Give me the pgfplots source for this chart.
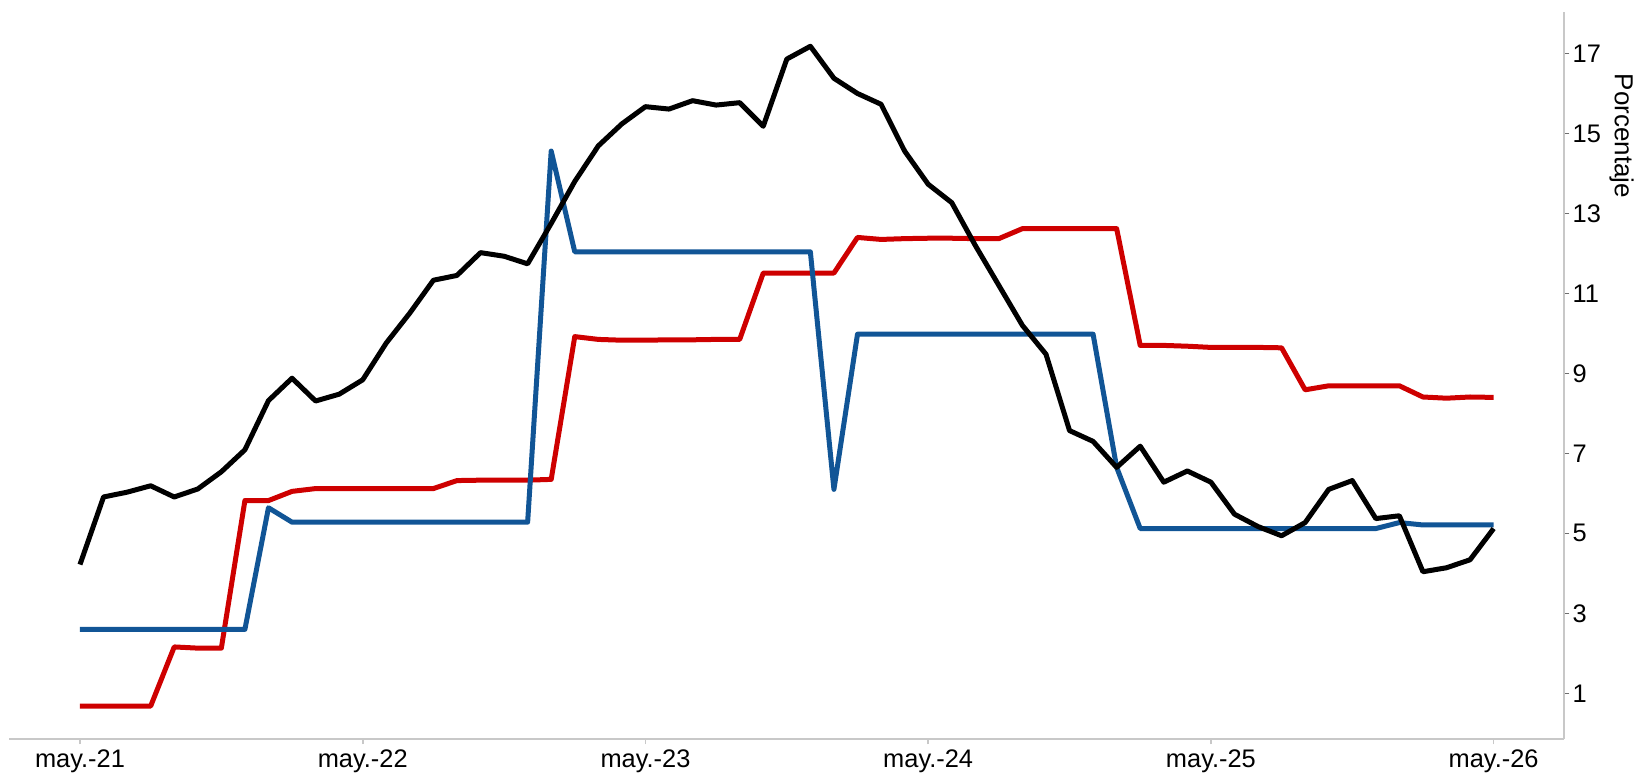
\documentclass[border=0pt]{standalone}
\usepackage{pgfplots}
\pgfplotsset{compat=1.18}
\usepackage{fontspec}
\setmainfont{Liberation Sans}
\definecolor{cblack}{RGB}{0,0,0}
\definecolor{cred}{RGB}{206,0,0}
\definecolor{cblue}{RGB}{17,85,150}
\definecolor{axgray}{RGB}{200,200,200}
\definecolor{tickgray}{RGB}{110,110,110}
\begin{document}
\begin{tikzpicture}
\begin{axis}[
  name=ax,
  scale only axis,
  width=777.5pt, height=363.5pt,
  xmin=-3, xmax=63, ymin=-0.15, ymax=18.03,
  axis x line=bottom, axis y line=right,
  axis line style={-, draw=axgray, line width=1pt},
  xtick={0,12,24,36,48,60},
  xticklabels={may.-21,may.-22,may.-23,may.-24,may.-25,may.-26},
  ytick={1,3,5,7,9,11,13,15,17},
  tick align=outside,
  major tick length=2.5pt,
  xtick style={draw=axgray, line width=0.8pt},
  ytick style={draw=tickgray, line width=0.8pt},
  /pgf/number format/assume math mode=true,
  ticklabel style={font=\fontsize{12.7}{14}\selectfont},
  yticklabel style={inner sep=1.5pt},
  xticklabel style={inner sep=1pt, yshift=-1.5pt},
  clip=false,
]
\addplot[cred, line width=2.5pt, line join=round] coordinates {
(0,0.68)(1,0.68)(2,0.68)(3,0.68)(4,2.16)(5,2.13)(6,2.13)(7,5.82)(8,5.82)(9,6.05)
(10,6.12)(11,6.12)(12,6.12)(13,6.12)(14,6.12)(15,6.12)(16,6.32)(17,6.33)(18,6.33)(19,6.33)
(20,6.35)(21,9.92)(22,9.85)(23,9.83)(24,9.83)(25,9.84)(26,9.84)(27,9.85)(28,9.85)(29,11.51)
(30,11.51)(31,11.51)(32,11.51)(33,12.40)(34,12.35)(35,12.37)(36,12.38)(37,12.38)(38,12.37)(39,12.37)
(40,12.62)(41,12.62)(42,12.62)(43,12.62)(44,12.62)(45,9.70)(46,9.70)(47,9.68)(48,9.65)(49,9.65)
(50,9.65)(51,9.64)(52,8.59)(53,8.69)(54,8.69)(55,8.69)(56,8.69)(57,8.41)(58,8.38)(59,8.41)
(60,8.40)
};
\addplot[cblue, line width=2.5pt, line join=round] coordinates {
(0,2.6)(1,2.6)(2,2.6)(3,2.6)(4,2.6)(5,2.6)(6,2.6)(7,2.6)(8,5.64)(9,5.28)
(10,5.28)(11,5.28)(12,5.28)(13,5.28)(14,5.28)(15,5.28)(16,5.28)(17,5.28)(18,5.28)(19,5.28)
(20,14.56)(21,12.04)(22,12.04)(23,12.04)(24,12.04)(25,12.04)(26,12.04)(27,12.04)(28,12.04)(29,12.04)
(30,12.04)(31,12.04)(32,6.10)(33,9.98)(34,9.98)(35,9.98)(36,9.98)(37,9.98)(38,9.98)(39,9.98)
(40,9.98)(41,9.98)(42,9.98)(43,9.98)(44,6.65)(45,5.12)(46,5.12)(47,5.12)(48,5.12)(49,5.12)
(50,5.12)(51,5.12)(52,5.12)(53,5.12)(54,5.12)(55,5.12)(56,5.27)(57,5.21)(58,5.21)(59,5.21)
(60,5.21)
};
\addplot[cblack, line width=2.5pt, line join=round] coordinates {
(0,4.22)(1,5.91)(2,6.03)(3,6.19)(4,5.91)(5,6.11)(6,6.54)(7,7.09)(8,8.32)(9,8.88)
(10,8.31)(11,8.48)(12,8.84)(13,9.76)(14,10.51)(15,11.33)(16,11.45)(17,12.02)(18,11.93)(19,11.74)
(20,12.75)(21,13.8)(22,14.69)(23,15.24)(24,15.67)(25,15.61)(26,15.82)(27,15.71)(28,15.77)(29,15.18)
(30,16.86)(31,17.18)(32,16.38)(33,16.00)(34,15.73)(35,14.56)(36,13.73)(37,13.27)(38,12.2)(39,11.2)
(40,10.2)(41,9.48)(42,7.57)(43,7.30)(44,6.65)(45,7.18)(46,6.28)(47,6.56)(48,6.28)(49,5.48)
(50,5.17)(51,4.94)(52,5.27)(53,6.10)(54,6.32)(55,5.37)(56,5.44)(57,4.04)(58,4.14)(59,4.34)
(60,5.12)
};
\end{axis}
\node[rotate=-90, anchor=west, inner sep=0pt, font=\fontsize{13}{15}\selectfont]
  at ([xshift=28.6pt, yshift=-30.5pt]ax.north east) {Porcentaje};
\pgfresetboundingbox
\path[use as bounding box] ([shift={(-4.65pt,-16.85pt)}]ax.south west) rectangle ([shift={(38.35pt,6.15pt)}]ax.north east);
\end{tikzpicture}
\end{document}
